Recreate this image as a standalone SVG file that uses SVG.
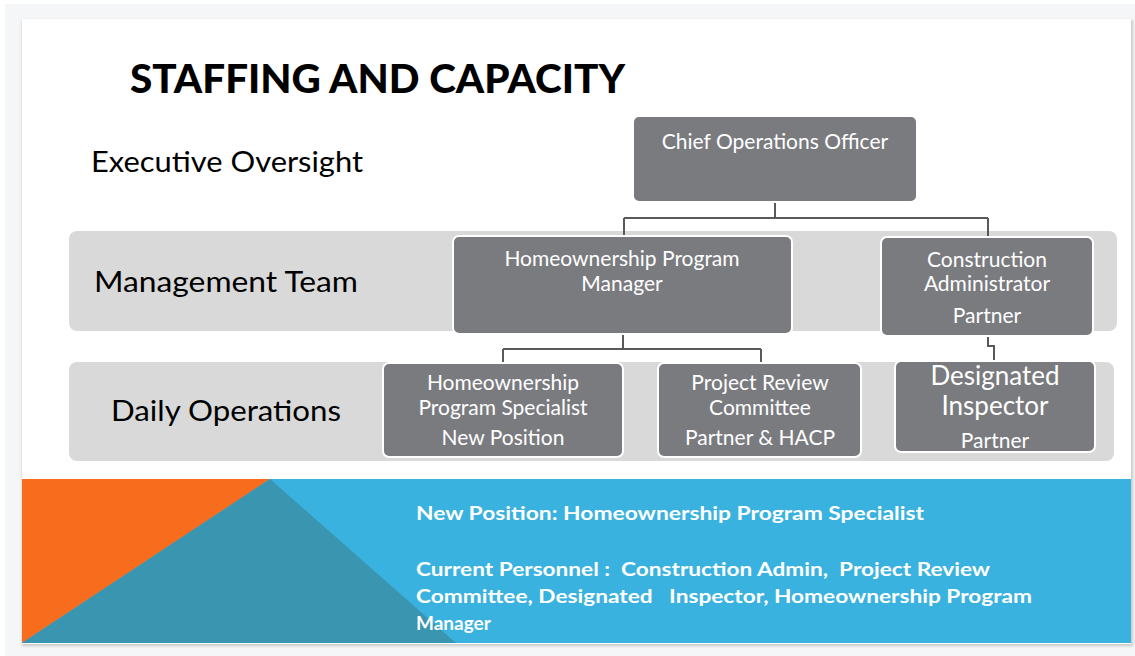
<svg xmlns="http://www.w3.org/2000/svg" width="1135" height="656" viewBox="0 0 1135 656">
<defs>
<style>
.band{fill:#d9d9d9}
.node{fill:#7a7b7f;stroke:#ffffff;stroke-width:2}
.nt{font-family:Lato,"Liberation Sans",sans-serif;fill:#ffffff;font-size:21px;text-anchor:middle}
.big{font-size:26px}
.lbl{font-family:Lato,"Liberation Sans",sans-serif;fill:#000000;font-size:28px}
.bt{font-family:Lato,"Liberation Sans",sans-serif;fill:#ffffff;font-size:19px;font-weight:bold}
.conn{fill:none;stroke:#595959;stroke-width:2}
</style>
<filter id="sh" x="-5%" y="-5%" width="110%" height="110%"><feGaussianBlur stdDeviation="1.5"/></filter>
</defs>
<rect x="0" y="0" width="1135" height="656" fill="#ffffff"/>
<rect x="5" y="4" width="1130" height="652" fill="#f5f6f8"/>
<rect x="22" y="20" width="1111" height="626" fill="#c8c8c8" filter="url(#sh)"/>
<rect x="22" y="19" width="1109" height="625" fill="#ffffff"/>
<polygon points="22,479 1131,479 1131,643 22,643" fill="#3ab2df"/>
<polygon points="22,479 270,479 22,643" fill="#f76c1d"/>
<polygon points="22,643 270,479 456,643" fill="#3a95b1"/>
<text x="130" y="93" font-family="Lato,'Liberation Sans',sans-serif" font-weight="900" font-size="39" fill="#000" textLength="495" lengthAdjust="spacingAndGlyphs">STAFFING AND CAPACITY</text>
<rect class="band" x="69" y="231" width="1048" height="100" rx="8"/>
<rect class="band" x="69" y="362" width="1045" height="99" rx="8"/>
<text class="lbl" x="91" y="172" textLength="272" lengthAdjust="spacingAndGlyphs">Executive Oversight</text>
<text class="lbl" x="94" y="292" textLength="264" lengthAdjust="spacingAndGlyphs">Management Team</text>
<text class="lbl" x="111" y="421" textLength="230" lengthAdjust="spacingAndGlyphs">Daily Operations</text>
<g id="connectors">
<path class="conn" d="M775,201 V218 M624,218 H988 M624,218 V236 M988,218 V237"/>
<path class="conn" d="M623,334 V349 M503,349 H761 M503,349 V363 M761,349 V363"/>
<path class="conn" d="M988,336 V346 H994 V361"/>
</g>
<g id="coo">
<rect class="node" x="633" y="116" width="284" height="86" rx="6"/>
<text class="nt" x="775" y="149">Chief Operations Officer</text>
</g>
<g id="hpm">
<rect class="node" x="453" y="236" width="339" height="98" rx="6"/>
<text class="nt" x="622" y="266">Homeownership Program</text>
<text class="nt" x="622" y="291">Manager</text>
</g>
<g id="ca">
<rect class="node" x="881" y="237" width="212" height="99" rx="6"/>
<text class="nt" x="987" y="267">Construction</text>
<text class="nt" x="987" y="291">Administrator</text>
<text class="nt" x="987" y="323">Partner</text>
</g>
<g id="hps">
<rect class="node" x="383" y="363" width="240" height="94" rx="6"/>
<text class="nt" x="503" y="390">Homeownership</text>
<text class="nt" x="503" y="415">Program Specialist</text>
<text class="nt" x="503" y="445">New Position</text>
</g>
<g id="prc">
<rect class="node" x="658" y="363" width="203" height="94" rx="6"/>
<text class="nt" x="760" y="390">Project Review</text>
<text class="nt" x="760" y="415">Committee</text>
<text class="nt" x="760" y="445">Partner &amp; HACP</text>
</g>
<g id="di">
<rect class="node" x="895" y="361" width="200" height="91" rx="6"/>
<text class="nt big" x="995" y="385">Designated</text>
<text class="nt big" x="995" y="415">Inspector</text>
<text class="nt" x="995" y="448">Partner</text>
</g>
<text class="bt" x="416" y="520" textLength="508" lengthAdjust="spacingAndGlyphs">New Position: Homeownership Program Specialist</text>
<text class="bt" x="416" y="576" textLength="574" lengthAdjust="spacingAndGlyphs" xml:space="preserve">Current Personnel :  Construction Admin,  Project Review</text>
<text class="bt" x="416" y="603" textLength="616" lengthAdjust="spacingAndGlyphs" xml:space="preserve">Committee, Designated   Inspector, Homeownership Program</text>
<text class="bt" x="416" y="630">Manager</text>
</svg>
